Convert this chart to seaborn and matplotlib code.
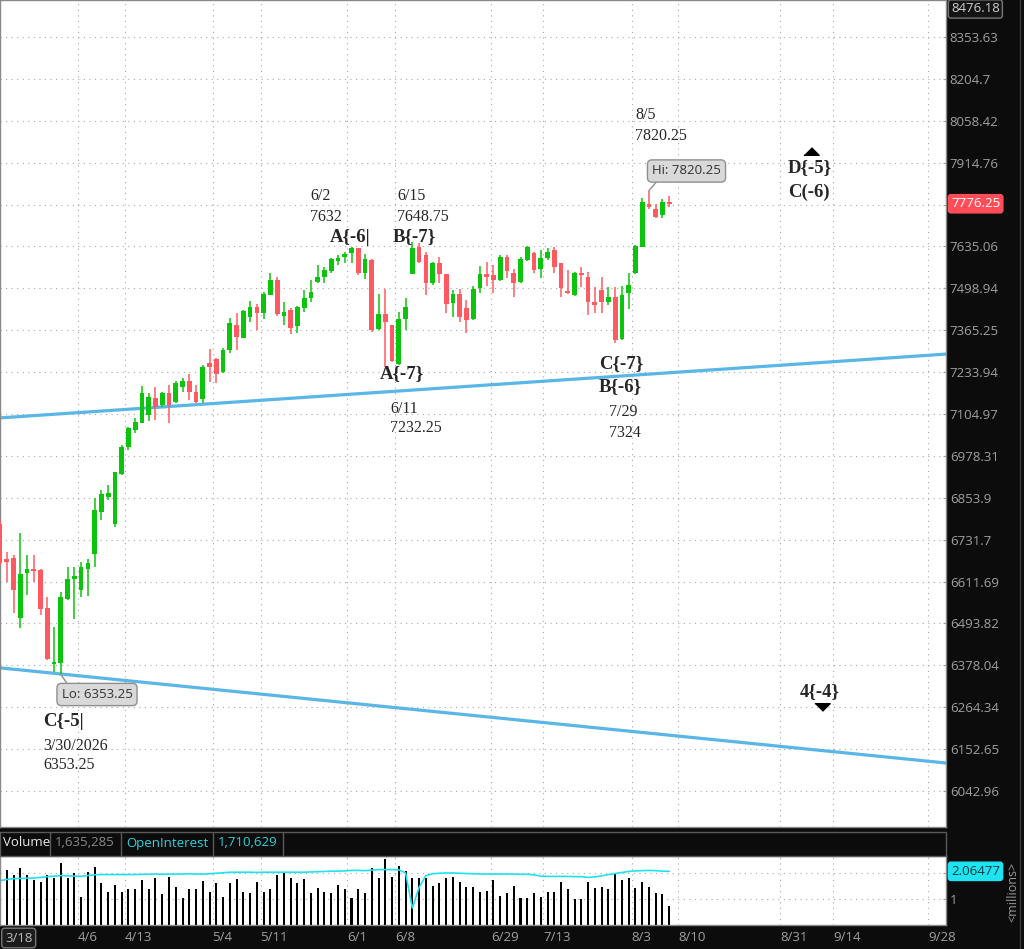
import numpy as np
import pandas as pd
import matplotlib
matplotlib.use("Agg")
import matplotlib.pyplot as plt
import matplotlib.transforms as mtrans
from matplotlib.patches import Rectangle
from matplotlib.lines import Line2D
from matplotlib.ticker import NullLocator
import seaborn as sns

# =========================
# 1. DATA
# =========================
opens = [6777, 6676, 6679, 6509, 6636, 6648, 6645, 6537, 6382, 6385,
         6562, 6619, 6588, 6648, 6690, 6812, 6856, 6777, 6924, 7005,
         7056, 7078, 7102, 7154, 7132, 7169, 7142, 7188, 7206, 7172,
         7151, 7262, 7275, 7234, 7303, 7382, 7341, 7407, 7439, 7420,
         7478, 7526, 7410, 7430, 7379, 7436, 7468, 7519, 7535, 7555,
         7588, 7600, 7614, 7630, 7548, 7591, 7369, 7417, 7382, 7259,
         7401, 7545, 7633, 7607, 7516, 7581, 7545, 7452, 7481, 7436,
         7401, 7500, 7545, 7542, 7526, 7600, 7548, 7519, 7591, 7614,
         7561, 7597, 7623, 7581, 7487, 7478, 7548, 7535, 7455, 7494,
         7455, 7471, 7338, 7484, 7548, 7633, 7775, 7759, 7739, 7779]
highs = [6789, 6696, 6688, 6751, 6688, 6688, 6648, 6568, 6484, 6582,
         6653, 6653, 6668, 6676, 6853, 6877, 6892, 6930, 7011, 7066,
         7093, 7191, 7169, 7188, 7172, 7194, 7206, 7216, 7228, 7194,
         7256, 7306, 7278, 7309, 7404, 7420, 7430, 7458, 7449, 7487,
         7549, 7536, 7455, 7436, 7442, 7494, 7526, 7575, 7568, 7597,
         7607, 7617, 7632, 7631, 7610, 7594, 7481, 7497, 7382, 7423,
         7468, 7648.75, 7646, 7617, 7584, 7601, 7545, 7494, 7497, 7462,
         7507, 7571, 7584, 7575, 7607, 7607, 7561, 7601, 7637, 7617,
         7623, 7630, 7633, 7581, 7558, 7552, 7568, 7552, 7503, 7536,
         7503, 7503, 7507, 7549, 7640, 7796, 7820.25, 7776, 7792, 7802]
lows = [6656, 6610, 6523, 6481, 6574, 6610, 6517, 6393, 6360, 6353.25,
        6560, 6506, 6568, 6571, 6653, 6789, 6847, 6768, 6921, 6996,
        7047, 7078, 7084, 7087, 7126, 7078, 7139, 7172, 7148, 7139,
        7139, 7203, 7200, 7231, 7294, 7303, 7341, 7391, 7366, 7401,
        7478, 7410, 7382, 7353, 7356, 7423, 7455, 7516, 7516, 7548,
        7574, 7581, 7581, 7542, 7529, 7360, 7366, 7250, 7265, 7256,
        7366, 7545, 7581, 7478, 7510, 7516, 7420, 7407, 7391, 7356,
        7398, 7484, 7506, 7484, 7523, 7532, 7471, 7516, 7587, 7548,
        7532, 7591, 7548, 7471, 7481, 7474, 7503, 7414, 7420, 7420,
        7445, 7324, 7334, 7433, 7545, 7633, 7759, 7729, 7729, 7765]
closes = [6665, 6668, 6588, 6633, 6648, 6642, 6534, 6396, 6387, 6568,
          6619, 6628, 6653, 6665, 6818, 6865, 6868, 6930, 7005, 7062,
          7081, 7169, 7157, 7126, 7169, 7132, 7200, 7206, 7172, 7142,
          7250, 7250, 7228, 7303, 7388, 7344, 7426, 7439, 7420, 7481,
          7526, 7417, 7423, 7372, 7439, 7468, 7487, 7535, 7558, 7594,
          7597, 7610, 7630, 7548, 7594, 7366, 7417, 7391, 7269, 7401,
          7439, 7630, 7584, 7516, 7581, 7545, 7449, 7481, 7407, 7398,
          7497, 7545, 7535, 7526, 7600, 7555, 7516, 7594, 7633, 7558,
          7597, 7617, 7568, 7500, 7484, 7548, 7542, 7455, 7445, 7455,
          7471, 7334, 7478, 7510, 7636, 7782, 7765, 7732, 7782, 7776.25]

# volume and open interest, millions
volume = [1.64, 2.12, 1.92, 2.18, 1.92, 1.73, 1.67, 1.92, 1.79, 2.37,
          1.79, 1.99, 1.09, 2.05, 2.22, 1.60, 1.28, 1.54, 1.28, 1.37,
          1.37, 1.73, 1.37, 1.82, 1.18, 1.86, 1.46, 1.05, 1.37, 1.37,
          1.69, 1.28, 1.60, 1.09, 1.60, 1.77, 1.28, 1.23, 1.64, 1.28,
          1.37, 1.92, 1.99, 1.82, 1.60, 1.77, 1.23, 1.41, 1.28, 1.23,
          1.54, 1.37, 1.05, 1.37, 1.23, 2.21, 1.82, 2.54, 1.86, 2.27,
          2.09, 1.80, 1.82, 1.79, 1.50, 1.60, 1.82, 1.86, 1.64, 1.46,
          1.46, 1.28, 1.32, 1.73, 1.13, 1.22, 1.50, 1.05, 1.05, 1.22,
          1.09, 1.28, 1.28, 1.67, 1.37, 1.00, 1.00, 1.64, 1.41, 1.46,
          1.37, 2.01, 1.73, 1.82, 1.41, 1.67, 1.46, 1.22, 1.18, 0.73]
open_interest = [1.71, 1.75, 1.78, 1.79, 1.80, 1.81, 1.83, 1.86, 1.88, 1.90,
                 1.89, 1.88, 1.87, 1.90, 1.93, 1.94, 1.94, 1.94, 1.94, 1.94,
                 1.94, 1.95, 1.95, 1.96, 1.95, 1.96, 1.96, 1.96, 1.97, 1.96,
                 1.96, 1.97, 1.99, 2.01, 2.03, 2.03, 2.03, 2.03, 2.02, 2.03,
                 2.03, 2.03, 2.03, 2.03, 2.03, 2.03, 2.04, 2.05, 2.06, 2.07,
                 2.07, 2.08, 2.10, 2.10, 2.09, 2.11, 2.13, 2.13, 2.13, 2.12,
                 2.00, 0.65, 1.45, 1.90, 1.97, 1.99, 2.00, 2.00, 1.99, 1.98,
                 1.97, 1.96, 1.96, 1.96, 1.96, 1.96, 1.96, 1.95, 1.95, 1.93,
                 1.88, 1.87, 1.87, 1.87, 1.87, 1.86, 1.86, 1.83, 1.85, 1.89,
                 1.94, 1.98, 2.02, 2.06, 2.08, 2.09, 2.10, 2.09, 2.07, 2.065]

price_ticks = [8353.63, 8204.7, 8058.42, 7914.76, 7773.66, 7635.06, 7498.94,
               7365.25, 7233.94, 7104.97, 6978.31, 6853.9, 6731.7, 6611.69,
               6493.82, 6378.04, 6264.34, 6152.65, 6042.96]
price_labels = ["8353.63", "8204.7", "8058.42", "7914.76", "", "7635.06",
                "7498.94", "7365.25", "7233.94", "7104.97", "6978.31", "6853.9",
                "6731.7", "6611.69", "6493.82", "6378.04", "6264.34", "6152.65",
                "6042.96"]

date_labels = ["4/6", "4/13", "5/4", "5/11", "6/1", "6/8", "6/29", "7/13",
               "8/3", "8/10", "8/31", "9/14", "9/28"]
date_pos = [11.47, 18.49, 31.44, 38.54, 51.4, 58.43, 72.63, 80.4, 93.42,
            100.37, 115.38, 123.22, 137.28]

# trend lines (bar index, price)
upper_idx, upper_price = [0, 139.9], [7093, 7290]
lower_idx, lower_price = [0, 139.9], [6371, 6116]

last_price = 7776.25
axis_top_price = 8476.18

# =========================
# 2. LAYOUT
# =========================
W, H = 1024, 949
PX = 945.7      # right edge of panels
PH = 826.7      # price panel height
GREEN, RED = "#0bc40b", "#ff5a61"
CYAN = "#1ee3f0"
BLUE = "#5ab6e6"
GRAY = "#a0a0a0"

sns.set_style("white")
plt.rcParams['font.family'] = ['Open Sans', 'DejaVu Sans']

fig = plt.figure(figsize=(W / 100, H / 100), dpi=100)
fig.patch.set_facecolor("#0c0c0c")

ax = fig.add_axes([0, 1 - PH / H, PX / W, PH / H])
axv = fig.add_axes([0, 1 - 925 / H, PX / W, 69 / H])

df = pd.DataFrame({"idx": np.arange(len(opens)), "open": opens, "high": highs,
                   "low": lows, "close": closes})
df["up"] = df["close"] >= df["open"]
colors = np.where(df["up"], GREEN, RED)

# =========================
# 3. PRICE PANEL
# =========================
ax.set_yscale("log")
body_lo = np.minimum(df["open"], df["close"])
body_hi = np.maximum(np.maximum(df["open"], df["close"]), body_lo * 1.0007)
ax.vlines(df["idx"], df["low"], df["high"], colors=colors, lw=1.1, zorder=3)
ax.bar(df["idx"], body_hi - body_lo, bottom=body_lo, width=0.7, color=colors,
       linewidth=0, zorder=4)

ax.plot(upper_idx, upper_price, color=BLUE, lw=2.3, zorder=2)
ax.plot(lower_idx, lower_price, color=BLUE, lw=2.3, zorder=2)

ax.set_xlim(0, 139.9)
ax.set_ylim(5950.9, 8487.4)
ax.yaxis.set_minor_locator(NullLocator())
ax.set_xticks(date_pos)
ax.set_yticks(price_ticks)
ax.set_yticklabels(price_labels)
ax.yaxis.tick_right()
ax.tick_params(axis="x", length=0, labelbottom=False)
ax.tick_params(axis="y", direction="in", length=2.5, pad=3, colors=GRAY,
               labelsize=9.5)
ax.grid(True, ls=(0, (1, 4)), color="#a8a8a8", lw=0.8)
ax.set_axisbelow(True)
for s in ax.spines.values():
    s.set_color("#8a8a8a")
    s.set_linewidth(1)


def at(x, y):
    return (x / PX, 1 - y / PH)


yb = mtrans.blended_transform_factory(ax.transAxes, ax.transData)
ax.text(951 / PX, last_price, f"{last_price:.2f}", transform=yb, va="center",
        ha="left", color="white", fontsize=9.5, clip_on=False,
        bbox=dict(boxstyle="round,pad=0.2", fc="#ff4e58", ec="#ff4e58"))
# axis-top value box, nudged down so it stays inside the picture
ax.text(951 / PX, at(0, 9)[1], f"{axis_top_price:.2f}", transform=ax.transAxes,
        va="center", ha="left", color="#cfcfcf", fontsize=9.5, clip_on=False,
        bbox=dict(boxstyle="round,pad=0.2", fc="#141414", ec="#777777"))

serif = ["Liberation Serif", "DejaVu Serif"]
bold_labels = [("D{-5}", 788, 168), ("C(-6)", 788, 192), ("A{-6|", 330, 237),
               ("B{-7}", 393, 237), ("A{-7}", 380, 374), ("C{-7}", 599, 364),
               ("B{-6}", 599, 387), ("4{-4}", 800, 692), ("C{-5|", 43, 722)]
plain_labels = [("8/5", 635, 115), ("7820.25", 635, 136), ("6/2", 310, 196),
                ("7632", 310, 217), ("6/15", 397, 196), ("7648.75", 397, 217),
                ("6/11", 390, 409), ("7232.25", 390, 428), ("7/29", 609, 412),
                ("7324", 609, 433), ("3/30/2026", 43, 746), ("6353.25", 43, 765)]
for txt, x, y in bold_labels:
    ax.text(*at(x, y), txt, transform=ax.transAxes, family=serif,
            fontweight="bold", fontsize=13.5, va="center", ha="left", zorder=6)
for txt, x, y in plain_labels:
    ax.text(*at(x, y), txt, transform=ax.transAxes, family=serif,
            fontsize=11.5, va="center", ha="left", zorder=6)

tri = [(-1, -0.5), (1, -0.5), (0, 0.5)]
tri_dn = [(-1, 0.5), (1, 0.5), (0, -0.5)]
ax.plot(*at(811, 151), marker=tri, ms=11, color="black", transform=ax.transAxes)
ax.plot(*at(822, 707), marker=tri_dn, ms=11, color="black", transform=ax.transAxes)

box = dict(boxstyle="round,pad=0.35", fc="#d9d9d9", ec="#8f8f8f", lw=1)
ax.annotate("Hi: 7820.25", xy=(96, 7820.25), xytext=at(686.5, 171),
            textcoords="axes fraction", ha="center", va="center", fontsize=9.5,
            color="#333333", bbox=box, zorder=7,
            arrowprops=dict(arrowstyle="-", color="#8f8f8f", lw=1,
                            relpos=(0.12, 0.0), shrinkA=0, shrinkB=0))
ax.annotate("Lo: 6353.25", xy=(9, 6353.25), xytext=at(97, 694.5),
            textcoords="axes fraction", ha="center", va="center", fontsize=9.5,
            color="#333333", bbox=box, zorder=7,
            arrowprops=dict(arrowstyle="-", color="#8f8f8f", lw=1,
                            relpos=(0.12, 1.0), shrinkA=0, shrinkB=0))

# =========================
# 4. VOLUME PANEL
# =========================
sns.barplot(x=df["idx"], y=volume, native_scale=True, color="black",
            saturation=1, width=0.3, linewidth=0, errorbar=None, ax=axv)
sns.lineplot(x=df["idx"], y=open_interest, color=CYAN, lw=1.2, ax=axv)
axv.set_xlim(0, 139.9)
axv.set_ylim(0, 69 / 26)
axv.set_xlabel("")
axv.set_ylabel("")
axv.set_xticks(date_pos, labels=date_labels, ha="left")
axv.tick_params(axis="x", length=0, pad=4, labelsize=9.5, labelcolor=GRAY)
axv.yaxis.tick_right()
axv.set_yticks([1, 2], labels=["1", ""])
axv.tick_params(axis="y", direction="in", length=2.5, pad=3, colors=GRAY,
                labelsize=9.5)
axv.grid(True, ls=(0, (1, 4)), color="#a8a8a8", lw=0.8)
axv.set_axisbelow(True)
for s in axv.spines.values():
    s.set_color("#8a8a8a")
    s.set_linewidth(1)

vb = mtrans.blended_transform_factory(axv.transAxes, axv.transData)
axv.text(951 / PX, open_interest[-1], "2.06477", transform=vb, va="center",
         ha="left", color="#0b3a40", fontsize=9.5, clip_on=False,
         bbox=dict(boxstyle="round,pad=0.2", fc=CYAN, ec=CYAN))

# header strip of the volume study
fig.add_artist(Rectangle((0, 1 - 856 / H), PX / W, 24 / H, transform=fig.transFigure,
                         fc="#0c0c0c", ec="#5a5a5a", lw=1))
for x in [50, 121, 213, 283]:
    fig.add_artist(Line2D([x / W, x / W], [1 - 855 / H, 1 - 833 / H],
                          color="#5a5a5a", lw=1))
hy = 1 - 843 / H
fig.text(3 / W, hy, "Volume", ha="left", va="center", color="#e8e8e8", fontsize=9.5)
fig.text(55 / W, hy, "1,635,285", ha="left", va="center", color="#8a8a8a", fontsize=9.5)
fig.text(126 / W, hy, "OpenInterest", ha="left", va="center", color="#2ad4e0", fontsize=9.5)
fig.text(218 / W, hy, "1,710,629", ha="left", va="center", color="#2ad4e0", fontsize=9.5)

fig.text(5 / W, 1 - 938 / H, "3/18", ha="left", va="center", color="#bdbdbd",
         fontsize=9.5, bbox=dict(boxstyle="round,pad=0.25", fc="#1c1c1c", ec="#777777"))
fig.text(1013 / W, 1 - 892 / H, "<millions>", rotation=90, ha="center",
         va="center", color="#9a9a9a", fontsize=9)
fig.add_artist(Line2D([1020 / W, 1020 / W], [0, 1], color="#3a3a3a", lw=1))

fig.savefig("out.png", dpi=100, facecolor=fig.get_facecolor())
